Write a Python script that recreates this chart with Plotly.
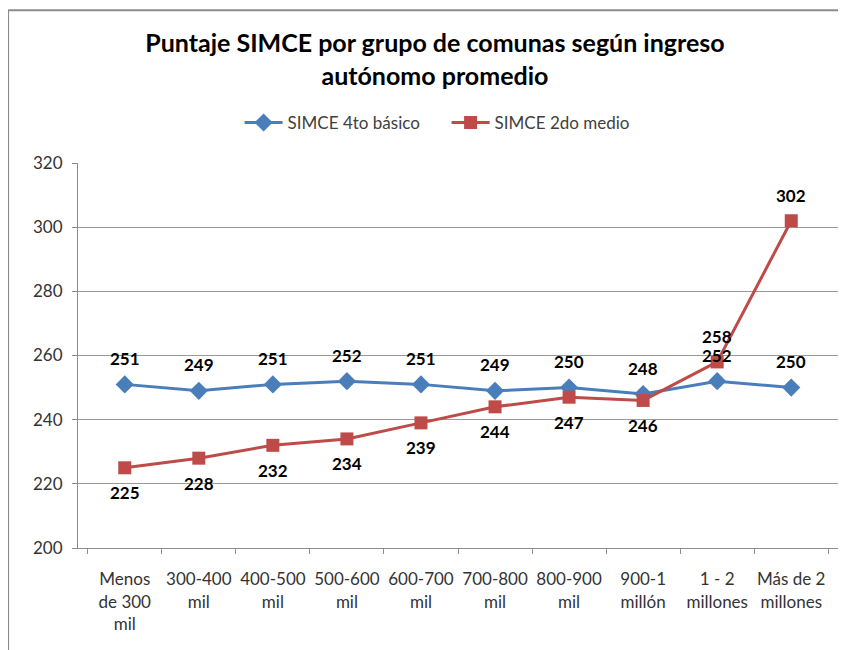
import plotly.graph_objects as go

categorias = ["Menos<br>de 300<br>mil", "300-400<br>mil", "400-500<br>mil", "500-600<br>mil",
              "600-700<br>mil", "700-800<br>mil", "800-900<br>mil", "900-1<br>millón",
              "1 - 2<br>millones", "Más de 2<br>millones"]
simce_4to = [251, 249, 251, 252, 251, 249, 250, 248, 252, 250]
simce_2do = [225, 228, 232, 234, 239, 244, 247, 246, 258, 302]
# etiquetas de 2do medio: arriba (1) o abajo (-1)
pos_2do = [-1, -1, -1, -1, -1, -1, -1, -1, 1, 1]

azul = "#4A7EBB"
rojo = "#BE4B48"
fuente = "Lato"

fig = go.Figure()
fig.add_trace(go.Scatter(x=categorias, y=simce_4to, mode="lines+markers",
                         name="SIMCE 4to básico",
                         line=dict(color=azul, width=3),
                         marker=dict(symbol="diamond", size=14, color=azul)))
fig.add_trace(go.Scatter(x=categorias, y=simce_2do, mode="lines+markers",
                         name="SIMCE 2do medio",
                         line=dict(color=rojo, width=3),
                         marker=dict(symbol="square", size=13, color=rojo)))

for c, v in zip(categorias, simce_4to):
    fig.add_annotation(x=c, y=v, text=str(v), showarrow=False, yshift=26,
                       font=dict(family=fuente, size=17, color="black", weight="bold"))
for c, v, p in zip(categorias, simce_2do, pos_2do):
    fig.add_annotation(x=c, y=v, text=str(v), showarrow=False, yshift=25 * p,
                       font=dict(family=fuente, size=17, color="black", weight="bold"))

# marco gris del gráfico
fig.add_shape(type="line", xref="paper", yref="paper", x0=-0.092, x1=1.05, y0=1.397, y1=1.397,
              line=dict(color="#8c8c8c", width=2))
fig.add_shape(type="line", xref="paper", yref="paper", x0=-0.092, x1=-0.092, y0=-0.5, y1=1.397,
              line=dict(color="#8c8c8c", width=2))

fig.update_layout(
    width=838, height=642,
    margin=dict(l=70, r=8, t=155, b=102),
    paper_bgcolor="white", plot_bgcolor="white",
    font=dict(family=fuente, color="#333333"),
    title=dict(text="Puntaje SIMCE por grupo de comunas según ingreso<br>autónomo promedio",
               x=0.5095, xanchor="center", y=0.931, yanchor="middle",
               font=dict(family=fuente, size=25, color="black", weight="bold")),
    legend=dict(orientation="h", x=0.485, xanchor="center", y=1.104, yanchor="middle",
                itemwidth=38, entrywidth=154,
                font=dict(family=fuente, size=17, color="#404040")),
    showlegend=True,
)
fig.update_xaxes(showline=True, linecolor="#8c8c8c", ticks="outside", ticklen=5,
                 tickcolor="#8c8c8c", tickson="boundaries", showgrid=False, automargin=False,
                 tickangle=0, ticklabelstandoff=16,
                 tickfont=dict(family=fuente, size=17, color="#333333"))
fig.update_yaxes(range=[200, 320], dtick=20, showline=True, linecolor="#8c8c8c",
                 ticks="outside", ticklen=5, tickcolor="#8c8c8c", automargin=False,
                 ticklabelstandoff=6,
                 gridcolor="#9a9a9a", gridwidth=1, zeroline=False,
                 tickfont=dict(family=fuente, size=17, color="#333333"))

fig.write_html("out.html")
